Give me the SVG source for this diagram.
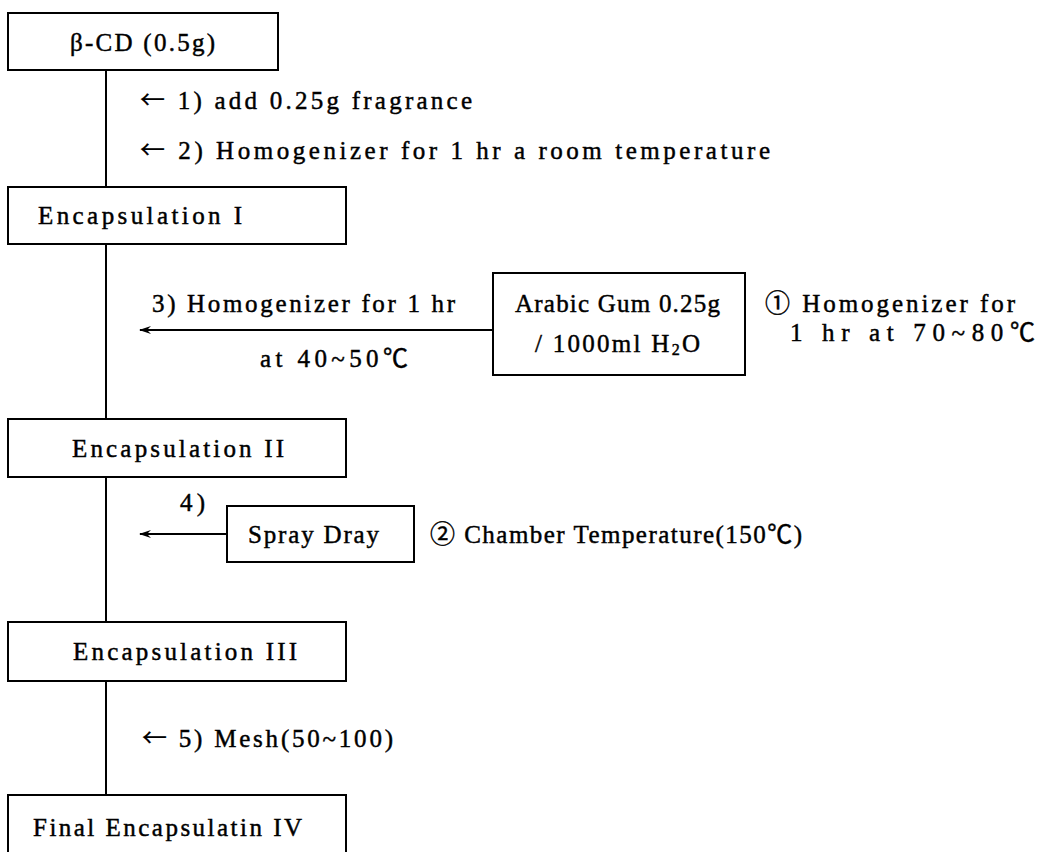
<svg xmlns="http://www.w3.org/2000/svg" width="1038" height="852" viewBox="0 0 1038 852">
<defs>
<style>
.box{fill:#fff;stroke:#000;stroke-width:2}
.ln{fill:none;stroke:#000;stroke-width:2}
text{font-family:"Liberation Serif","Noto Sans CJK KR",serif;font-size:25px;fill:#000;stroke:#000;stroke-width:0.45}
.cjk{font-family:"Noto Sans CJK KR",sans-serif;stroke-width:0.2}
</style>
<marker id="ah" viewBox="0 0 12 10" refX="11" refY="5" markerWidth="12" markerHeight="10" markerUnits="userSpaceOnUse" orient="auto">
<path d="M0,1 L12,5 L0,9 L4,5 Z" fill="#000"/>
</marker>
</defs>
<rect width="1038" height="852" fill="#fff"/>
<g id="connectors">
<line class="ln" x1="106" y1="70" x2="106" y2="187"/>
<line class="ln" x1="106" y1="244" x2="106" y2="419"/>
<line class="ln" x1="106" y1="477" x2="106" y2="622"/>
<line class="ln" x1="106" y1="681" x2="106" y2="795"/>
<line class="ln" x1="493" y1="330" x2="140" y2="330" marker-end="url(#ah)"/>
<line class="ln" x1="227" y1="534" x2="140" y2="534" marker-end="url(#ah)"/>
</g>
<g id="n-bcd">
<rect class="box" x="8" y="13" width="270" height="57"/>
<text x="70" y="51" textLength="145" lengthAdjust="spacing">β-CD (0.5g)</text>
</g>
<g id="lbl-1"><text x="140" y="109" textLength="332" lengthAdjust="spacing"><tspan class="cjk">←</tspan> 1) add 0.25g fragrance</text></g>
<g id="lbl-2"><text x="140" y="159" textLength="630" lengthAdjust="spacing"><tspan class="cjk">←</tspan> 2) Homogenizer for 1 hr a room temperature</text></g>
<g id="n-enc1">
<rect class="box" x="8" y="187" width="338" height="57"/>
<text x="38" y="224" textLength="204" lengthAdjust="spacing">Encapsulation I</text>
</g>
<g id="lbl-3">
<text x="152" y="312" textLength="303" lengthAdjust="spacing">3) Homogenizer for 1 hr</text>
<text x="260" y="367" textLength="148" lengthAdjust="spacing">at 40~50℃</text>
</g>
<g id="n-arabic">
<rect class="box" x="493" y="273" width="252" height="102"/>
<text x="515" y="312" textLength="205" lengthAdjust="spacing">Arabic Gum 0.25g</text>
<text x="535" y="352" textLength="165" lengthAdjust="spacing">/ 1000ml H<tspan font-size="16" dy="3">2</tspan><tspan dy="-3">O</tspan></text>
</g>
<g id="lbl-c1">
<text x="765" y="312" textLength="250" lengthAdjust="spacing">① Homogenizer for</text>
<text x="790" y="341" textLength="245" lengthAdjust="spacing">1 hr at 70~80℃</text>
</g>
<g id="n-enc2">
<rect class="box" x="8" y="419" width="338" height="58"/>
<text x="72" y="457" textLength="212" lengthAdjust="spacing">Encapsulation II</text>
</g>
<g id="lbl-4"><text x="180" y="511" textLength="25" lengthAdjust="spacing">4)</text></g>
<g id="n-spray">
<rect class="box" x="227" y="506" width="187" height="56"/>
<text x="248" y="543" textLength="131" lengthAdjust="spacing">Spray Dray</text>
</g>
<g id="lbl-c2"><text x="430" y="543" textLength="372" lengthAdjust="spacing">② Chamber Temperature(150℃)</text></g>
<g id="n-enc3">
<rect class="box" x="8" y="622" width="338" height="59"/>
<text x="73" y="660" textLength="224" lengthAdjust="spacing">Encapsulation III</text>
</g>
<g id="lbl-5"><text x="142" y="747" textLength="251" lengthAdjust="spacing"><tspan class="cjk">←</tspan> 5) Mesh(50~100)</text></g>
<g id="n-final">
<path class="ln" d="M8,853 V795 H346 V853"/>
<text x="33" y="836" textLength="269" lengthAdjust="spacing">Final Encapsulatin IV</text>
</g>
</svg>
